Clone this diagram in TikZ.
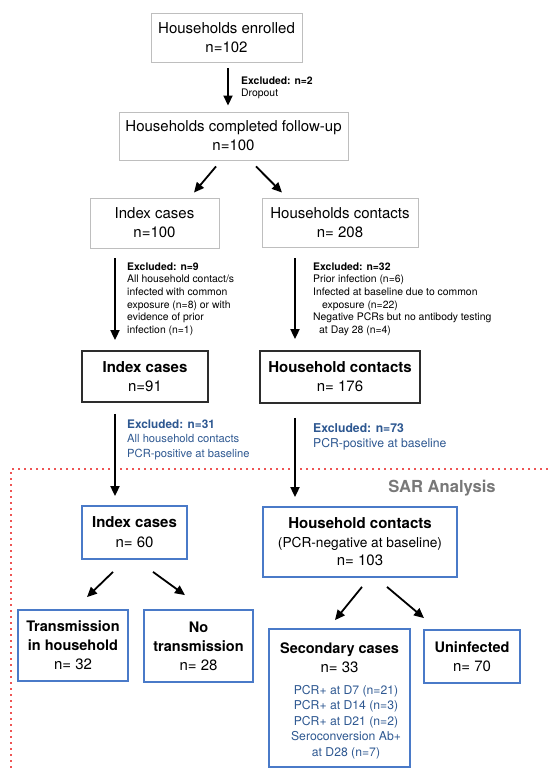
\documentclass[tikz,border=0pt]{standalone}
\usepackage{fontspec}
\setmainfont{TeX Gyre Heros}
\usetikzlibrary{arrows.meta,calc}
\definecolor{boxgray}{RGB}{190,190,190}
\definecolor{boxdark}{RGB}{45,45,45}
\definecolor{boxblue}{RGB}{74,122,200}
\definecolor{txtblue}{RGB}{46,88,145}
\definecolor{sargray}{RGB}{120,120,120}
\definecolor{dotred}{RGB}{238,85,85}
\newcommand{\fsz}[2]{\fontsize{#1}{#2}\selectfont}
\begin{document}
\begin{tikzpicture}[x=1pt,y=-1pt,
  graybox/.style={draw=boxgray,line width=0.9pt,inner sep=0pt,align=center,font=\fsz{15}{19}},
  darkbox/.style={draw=boxdark,line width=1.8pt,inner sep=0pt,align=center,font=\fsz{15}{19}},
  bluebox/.style={draw=boxblue,line width=1.8pt,inner sep=0pt,align=center,font=\fsz{15}{19}},
  arr/.style={-{Triangle[length=10pt,width=9pt]},line width=1.8pt,black},
  note/.style={anchor=base west,align=left,inner sep=0pt},
  bluenote/.style={note,text=txtblue},
  plain/.style={inner sep=0pt,align=center}
]
\useasboundingbox (0,0) rectangle (548,772);
% red dotted SAR frame
\draw[dotred,line width=2pt,dash pattern=on 2pt off 4pt] (548,469) -- (11,469) -- (11,772);
\node[plain,font=\fsz{16.6}{20}\bfseries,text=sargray] (sar) at (442,488) {SAR Analysis};

% boxes
\node[graybox,minimum width=151pt,minimum height=49pt] (enr) at (226.5,37.5) {Households enrolled\\n=102};
\node[graybox,minimum width=229pt,minimum height=48pt] (fu) at (233.5,136) {Households completed follow-up\\n=100};
\node[graybox,minimum width=129pt,minimum height=50pt] (ic1) at (154.5,223) {Index cases\\n=100};
\node[graybox,minimum width=156pt,minimum height=49pt] (hc1) at (340,222.5) {Households contacts\\n= 208};
\node[darkbox,minimum width=126pt,minimum height=51pt] (ic2) at (145,376.5) {\textbf{Index cases}\\n=91};
\node[darkbox,minimum width=160pt,minimum height=52pt] (hc2) at (340,377) {\textbf{Household contacts}\\n= 176};
\node[bluebox,minimum width=105pt,minimum height=53pt,font=\fsz{15}{20}] (ic3) at (134.5,532.5) {\textbf{Index cases}\\n= 60};
\node[bluebox,minimum width=194pt,minimum height=70pt,font=\fsz{15}{18.5}] (hc3) at (360,542) {\textbf{Household contacts}\\{\fsz{13.7}{18.5}(PCR-negative at baseline)}\\n= 103};
\node[bluebox,minimum width=110pt,minimum height=71pt] (tr) at (73,645.5) {{\fsz{14.5}{19}\bfseries Transmission}\\{\fsz{14.5}{19}\bfseries in household}\\n= 32};
\node[bluebox,minimum width=109pt,minimum height=72pt] (nt) at (198.5,646) {{\fsz{14.5}{19}\bfseries No}\\{\fsz{14.5}{19}\bfseries transmission}\\n= 28};
\node[bluebox,minimum width=141pt,minimum height=138pt] (sc) at (339.5,698) {};
\node[plain,font=\fsz{15}{19}] (sct) at (339.5,657.5) {{\fsz{14.5}{19}\bfseries Secondary cases}\\n= 33};
\node[plain,font=\fsz{12.2}{15.5},text=txtblue] (scl) at (346,722) {PCR+ at D7 (n=21)\\PCR+ at D14 (n=3)\\PCR+ at D21 (n=2)\\Seroconversion Ab+\\at D28 (n=7)};
\node[bluebox,minimum width=96pt,minimum height=53pt] (un) at (472,656.5) {{\fsz{14.5}{19}\bfseries Uninfected}\\n= 70};

% exclusion notes (anchor = baseline of last line)
\node[note,font=\fsz{10.4}{12.7}] (x2) at (241,96.7) {\textbf{Excluded: n=2}\\Dropout};
\node[note,font=\fsz{10.4}{12.7}] (x9) at (127,333.5) {\textbf{Excluded: n=9}\\All household contact/s\\infected with common\\exposure (n=8) or with\\evidence of prior\\infection (n=1)};
\node[note,font=\fsz{10.4}{12.7}] (x32) at (313,333.5) {\textbf{Excluded: n=32}\\Prior infection (n=6)\\Infected at baseline due to common\\\hspace*{9pt}exposure (n=22)\\Negative PCRs but no antibody testing\\\hspace*{6pt}at Day 28 (n=4)};
\node[bluenote,font=\fsz{11.2}{14.5}] (x31) at (127,457) {{\fsz{11.8}{14.5}\bfseries Excluded: n=31}\\All household contacts\\PCR-positive at baseline};
\node[bluenote,font=\fsz{12.2}{15}] (x73) at (313,447) {\textbf{Excluded: n=73}\\PCR-positive at baseline};

% arrows
\draw[arr] ($(enr.south)+(1.5,6)$) -- ($(fu.north)+(-5.5,-6)$);
\draw[arr] ($(fu.south)+(-17.5,6)$) -- ($(ic1.north)+(39.5,-5)$);
\draw[arr] ($(fu.south)+(22.5,6)$) -- ($(hc1.north)+(-58,-5)$);
\draw[arr] ($(ic1.south)+(-39.5,10)$) -- ($(ic2.north)+(-30,-10)$);
\draw[arr] ($(hc1.south)+(-45,11)$) -- ($(hc2.north)+(-45,-11)$);
\draw[arr] ($(ic2.south)+(-30,11)$) -- ($(ic3.north)+(-19.5,-9)$);
\draw[arr] ($(hc2.south)+(-45,14)$) -- ($(hc3.north)+(-65,-9)$);
\draw[arr] ($(ic3.south)+(-21.5,12)$) -- ($(tr.north)+(14,-12)$);
\draw[arr] ($(ic3.south)+(18.5,12)$) -- ($(nt.north)+(-13.5,-14)$);
\draw[arr] ($(hc3.south)+(2,9)$) -- ($(sc.north)+(-4.5,-8)$);
\draw[arr] ($(hc3.south)+(27,9)$) -- ($(un.north)+(-48,-11)$);
\end{tikzpicture}
\end{document}
